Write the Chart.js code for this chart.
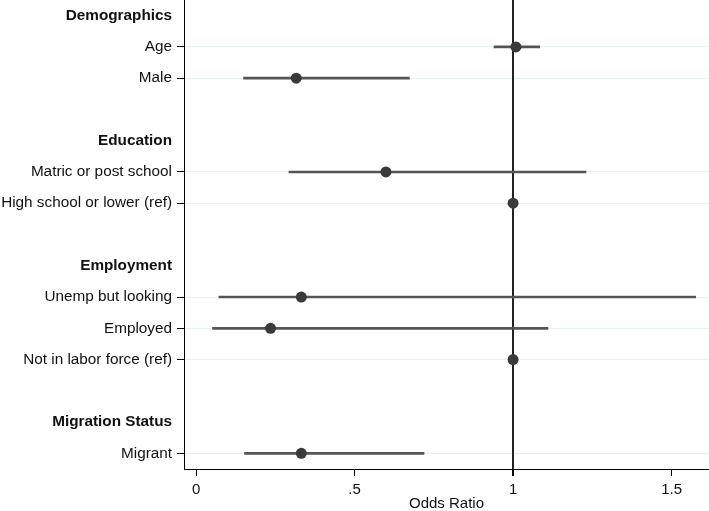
<!DOCTYPE html>
<html>
<head>
<meta charset="utf-8">
<script src="https://cdn.jsdelivr.net/npm/chart.js@4"></script>
<style>
  html, body { margin: 0; padding: 0; background: #fff; }
  #wrap { width: 709px; height: 511px; }
</style>
</head>
<body>
<div id="wrap"><canvas id="c" width="709" height="511"></canvas></div>
<script>
// ---- data ----
const rowLabels = [
  'Demographics', 'Age', 'Male', '',
  'Education', 'Matric or post school', 'High school or lower (ref)', '',
  'Employment', 'Unemp but looking', 'Employed', 'Not in labor force (ref)', '',
  'Migration Status', 'Migrant'
];
const headerRows = ['Demographics', 'Education', 'Employment', 'Migration Status'];
const oddsRatio = [null, 1.009, 0.316, null, null, 0.599, 1.0, null, null, 0.332, 0.235, 1.0, null, null, 0.332];
const ciLower   = [null, 0.940, 0.150, null, null, 0.293, null, null, null, 0.072, 0.052, null, null, null, 0.153];
const ciUpper   = [null, 1.084, 0.673, null, null, 1.230, null, null, null, 1.576, 1.110, null, null, null, 0.719];
const xTickValues = [0, 0.5, 1, 1.5];
const xTickLabels = ['0', '.5', '1', '1.5'];
const referenceValue = 1;

// ---- chart ----
const FONT = 'Liberation Sans, Arial, Helvetica, sans-serif';
const isHeader = i => headerRows.includes(rowLabels[i]);
const isItem = i => rowLabels[i] !== '' && !isHeader(i);

const ciData = rowLabels.map((_, i) => (ciLower[i] != null && ciUpper[i] != null) ? [ciLower[i], ciUpper[i]] : null);

new Chart(document.getElementById('c'), {
  type: 'bar',
  data: {
    labels: rowLabels,
    datasets: [
      {
        type: 'line',
        indexAxis: 'y',
        data: oddsRatio,
        showLine: false,
        pointRadius: 5.5,
        pointBackgroundColor: '#3a3a3a',
        pointBorderColor: '#3a3a3a',
        pointBorderWidth: 0,
        order: 0
      },
      {
        type: 'bar',
        indexAxis: 'y',
        data: ciData,
        backgroundColor: '#555555',
        borderWidth: 0,
        borderSkipped: false,
        barThickness: 2,
        order: 1
      }
    ]
  },
  options: {
    indexAxis: 'y',
    responsive: false,
    animation: false,
    layout: { padding: 0, autoPadding: false },
    plugins: { legend: { display: false }, tooltip: { enabled: false }, title: { display: false } },
    scales: {
      y: {
        type: 'category',
        offset: true,
        afterFit: s => { s.width = 184; s.paddingTop = 0; s.paddingBottom = 0; },
        border: { display: true, color: '#000', width: 1 },
        grid: {
          offset: false,
          drawOnChartArea: true,
          color: ctx => isItem(ctx.index) ? '#e6f0f1' : 'rgba(0,0,0,0)',
          tickColor: ctx => isItem(ctx.index) ? '#000' : 'rgba(0,0,0,0)',
          tickLength: 7,
          lineWidth: 1
        },
        ticks: {
          autoSkip: false,
          padding: 5,
          color: '#111',
          font: ctx => ({ family: FONT, size: 15.3, weight: isHeader(ctx.index) ? 'bold' : 'normal' })
        }
      },
      x: {
        type: 'linear',
        min: -0.038,
        max: 1.618,
        afterFit: s => { s.height = 42; s.paddingLeft = 0; s.paddingRight = 0; },
        afterBuildTicks: s => { s.ticks = xTickValues.map(v => ({ value: v })); },
        border: { display: true, color: '#000', width: 1 },
        grid: {
          color: ctx => (ctx.tick && ctx.tick.value === referenceValue) ? '#222' : 'rgba(0,0,0,0)',
          lineWidth: ctx => (ctx.tick && ctx.tick.value === referenceValue) ? 2 : 1,
          tickColor: '#000',
          tickLength: 7
        },
        ticks: {
          padding: 5,
          color: '#111',
          font: { family: FONT, size: 15 },
          callback: (v) => { const k = xTickValues.indexOf(v); return k >= 0 ? xTickLabels[k] : ''; }
        },
        title: {
          display: true,
          text: 'Odds Ratio',
          color: '#111',
          font: { family: FONT, size: 15, lineHeight: 1.0 },
          padding: { top: 0, bottom: 0 }
        }
      }
    }
  }
});
</script>
</body>
</html>
